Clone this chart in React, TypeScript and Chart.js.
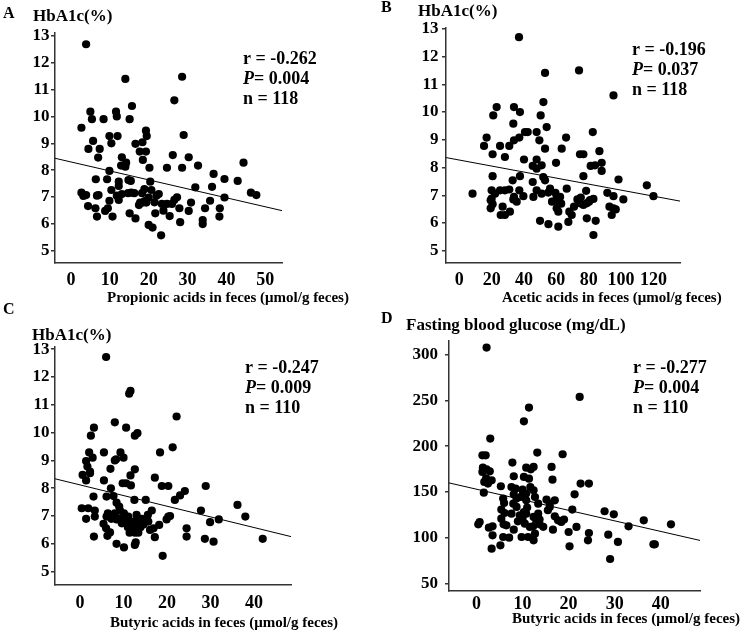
import React, { useEffect, useRef } from "react";
import { Chart, registerables } from "chart.js";

Chart.register(...registerables);

const FONT = '"Liberation Serif", "Times New Roman", Times, serif';

// ---------- Panel A: propionic acid vs HbA1c ----------
const propionicHbA1c: number[][] = [
  [3.9,12.69],[14.0,11.4],[28.6,11.48],[26.6,10.6],[5.0,10.18],[11.6,10.18],[15.7,10.39],[5.4,9.9],[8.4,9.9],[11.8,10.0],
  [15.1,9.9],[2.7,9.58],[9.9,9.27],[12.0,9.27],[10.4,9.0],[5.7,9.09],[4.5,8.79],[7.4,8.79],[16.6,8.98],[18.4,9.04],
  [19.3,9.47],[19.5,9.27],[17.7,8.69],[19.3,8.69],[29.0,9.31],[7.0,8.47],[26.2,8.56],[13.1,8.48],[14.2,8.28],[12.9,8.17],
  [14.0,8.13],[18.5,8.38],[20.2,8.09],[24.7,8.09],[28.6,8.09],[30.3,8.48],[32.7,8.17],[36.7,7.86],[44.4,8.28],[42.9,7.6],
  [39.5,7.67],[2.7,7.16],[6.4,7.66],[9.3,7.66],[9.9,7.97],[12.3,7.57],[12.3,7.41],[14.8,7.63],[15.4,7.6],[20.4,7.57],
  [20.7,7.26],[32.0,7.36],[36.3,7.38],[39.5,6.98],[46.3,7.16],[47.7,7.07],[4.4,6.66],[6.3,6.58],[6.7,6.27],[8.8,6.48],
  [9.9,6.86],[9.5,6.58],[10.7,6.27],[10.4,7.26],[11.8,7.05],[13.1,7.11],[12.3,6.89],[14.7,7.14],[15.5,7.16],[15.1,6.39],
  [16.3,7.14],[16.6,6.2],[18.3,7.14],[18.5,6.79],[17.8,6.79],[19.4,6.79],[18.9,7.29],[20.0,6.98],[20.0,5.96],[21.0,5.86],
  [21.7,6.39],[22.6,7.11],[23.2,5.57],[23.4,6.74],[24.7,6.74],[23.8,6.49],[25.4,6.29],[26.0,6.74],[26.6,6.89],[27.3,6.99],
  [27.9,6.58],[28.1,6.06],[30.3,6.48],[30.9,6.79],[34.5,6.58],[33.9,6.14],[33.9,5.99],[35.8,6.86],[38.3,6.58],[38.2,6.27],
  [3.2,7.04],[7.1,7.07],[17.5,6.7],[19.0,6.85],[22.0,7.05],[21.5,6.8],[3.9,7.07],[6.7,7.05]
];
const propionicXTicks = [0, 10, 20, 30, 40, 50];
const hba1cTicks = [5, 6, 7, 8, 9, 10, 11, 12, 13];
const propionicFit = { intercept: 8.305, slope: -0.0334 };

// ---------- Panel B: acetic acid vs HbA1c ----------
const aceticHbA1c: number[][] = [
  [36.9,12.7],[53.0,11.41],[74.0,11.5],[95.3,10.6],[23.1,10.18],[21.0,9.88],[33.8,10.18],[37.5,10.0],[33.4,9.58],[52.0,10.36],
  [50.3,9.88],[54.0,9.46],[16.9,9.08],[15.3,8.78],[25.2,8.78],[30.9,8.78],[33.8,8.98],[37.1,9.08],[40.6,9.28],[42.3,9.28],
  [47.8,9.28],[49.5,8.98],[53.0,8.68],[20.6,8.48],[28.2,8.38],[40.0,8.29],[47.8,8.29],[45.4,8.06],[47.8,7.96],[50.9,8.08],
  [59.8,8.17],[63.3,8.68],[66.0,9.08],[74.6,8.48],[76.7,8.48],[82.5,9.28],[81.2,8.06],[83.9,8.08],[86.6,8.59],[88.0,8.17],
  [88.0,7.88],[76.7,7.69],[98.4,7.57],[115.9,7.36],[120.0,6.97],[8.2,7.06],[20.6,7.69],[20.0,7.18],[22.1,7.06],[25.2,7.18],
  [28.2,7.18],[30.9,7.21],[33.0,7.54],[37.5,7.69],[37.1,7.18],[19.4,6.82],[20.6,6.68],[19.4,6.53],[25.6,6.29],[26.8,6.59],
  [28.2,6.29],[31.3,6.41],[33.4,6.85],[35.5,6.77],[33.8,6.94],[39.6,6.97],[45.4,7.48],[45.8,6.94],[47.8,7.18],[50.9,7.06],
  [51.9,7.66],[53.0,7.54],[49.9,6.08],[55.1,5.96],[56.1,7.24],[57.3,6.77],[59.4,7.09],[60.2,6.94],[61.2,6.77],[61.2,6.41],
  [60.2,6.53],[62.3,6.94],[61.2,5.87],[66.4,7.24],[68.0,6.41],[67.4,6.04],[69.5,6.29],[70.9,6.59],[73.0,6.85],[74.6,6.71],
  [75.1,6.92],[76.7,6.65],[78.8,6.71],[78.4,7.16],[80.2,6.77],[80.8,6.83],[82.9,6.87],[78.8,6.17],[82.9,5.57],[84.3,6.08],
  [91.5,7.09],[92.8,6.59],[94.2,6.29],[95.3,6.53],[96.7,6.49],[95.3,6.97],[101.4,6.85],[20.0,6.88],[55.0,7.1],[63.0,6.7]
];
const aceticXTicks = [0, 20, 40, 60, 80, 100, 120];
const aceticFit = { intercept: 8.271, slope: -0.01085 };

// ---------- Panel C: butyric acid vs HbA1c ----------
const butyricHbA1c: number[][] = [
  [6.0,12.72],[11.3,11.4],[11.6,11.5],[22.2,10.58],[8.0,10.37],[10.6,10.18],[3.2,10.18],[2.5,9.89],[12.6,9.89],[13.2,9.98],
  [2.1,9.29],[5.5,9.29],[9.3,9.29],[10.0,9.1],[8.3,9.04],[8.0,9.0],[2.9,9.1],[21.3,9.47],[18.4,9.29],[1.4,8.98],
  [1.7,8.78],[2.3,8.54],[0.6,8.48],[1.4,8.28],[7.0,8.7],[12.6,8.68],[5.5,8.28],[11.6,8.46],[9.8,8.18],[10.6,8.18],
  [11.7,8.1],[17.2,8.38],[18.8,8.08],[20.3,8.08],[28.9,8.08],[7.1,8.0],[24.1,7.9],[23.0,7.74],[21.8,7.58],[3.1,7.7],
  [6.1,7.7],[7.7,7.72],[12.5,7.58],[15.1,7.58],[8.4,7.48],[9.0,7.34],[0.4,7.28],[1.9,7.28],[3.4,7.2],[1.4,6.9],
  [3.4,6.98],[3.2,6.26],[6.4,7.1],[6.1,6.98],[5.4,6.72],[6.0,6.56],[6.3,6.29],[6.9,6.41],[8.0,7.1],[8.8,6.92],
  [8.4,6.88],[10.1,7.1],[11.1,6.98],[9.6,6.74],[10.6,6.76],[11.6,6.74],[12.3,6.8],[12.6,6.56],[13.0,7.04],[13.6,6.88],
  [13.9,6.6],[12.6,6.4],[12.8,6.05],[12.6,5.96],[8.4,6.0],[10.1,5.87],[15.6,7.04],[16.5,7.2],[15.7,6.8],[16.1,6.5],
  [16.9,6.56],[17.2,6.24],[18.2,6.68],[19.0,5.57],[19.9,6.88],[20.3,6.98],[20.7,7.0],[24.5,6.56],[24.5,6.26],[27.8,7.2],
  [28.7,6.18],[29.9,6.78],[30.7,6.08],[31.9,6.88],[36.2,7.4],[38.0,6.98],[42.0,6.18],[11.0,6.6],[12.0,6.5],[13.2,6.7],
  [14.2,6.9],[9.2,7.2],[10.5,6.9],[7.2,6.9],[11.4,6.4],[13.4,6.4],[14.6,6.7],[2.3,8.6]
];
const butyricXTicks = [0, 10, 20, 30, 40];
const butyricHbA1cFit = { intercept: 8.12, slope: -0.03834 };

// ---------- Panel D: butyric acid vs fasting blood glucose ----------
const butyricGlucose: number[][] = [
  [2.2,307.6],[22.4,253.8],[11.4,242.1],[10.3,227.2],[3.0,208.3],[1.3,190.1],[2.0,190.1],[7.8,182.1],[13.2,193.0],[18.7,191.2],
  [1.4,176.6],[2.2,174.8],[2.9,172.6],[1.3,171.9],[3.3,162.8],[1.7,161.0],[2.5,159.2],[1.6,149.3],[10.8,176.6],[11.8,174.8],
  [12.4,177.4],[16.3,177.4],[16.5,163.5],[8.1,167.2],[10.3,166.5],[11.4,164.6],[5.3,156.3],[7.6,155.5],[8.5,153.7],[10.0,152.6],
  [11.7,155.5],[12.4,151.9],[22.6,159.2],[24.4,159.2],[21.3,147.5],[5.8,142.8],[6.0,138.0],[8.1,147.5],[8.7,142.8],[9.6,144.6],
  [10.8,148.3],[12.7,144.6],[13.4,137.3],[15.2,141.7],[15.9,137.3],[17.0,140.9],[8.0,137.3],[8.7,133.7],[5.4,130.8],[6.1,127.1],
  [7.6,126.4],[9.4,124.6],[15.9,133.7],[15.5,130.1],[20.8,130.8],[27.8,129.0],[29.8,125.7],[33.0,112.6],[36.3,119.1],[42.2,114.8],
  [38.4,92.9],[38.7,92.9],[28.6,103.5],[29.0,76.9],[30.7,95.5],[24.4,105.3],[24.2,97.3],[20.0,106.4],[20.2,90.8],[21.7,111.9],
  [17.0,123.5],[17.7,119.1],[18.4,117.3],[19.0,119.9],[16.6,108.9],[13.7,119.9],[12.4,122.8],[13.0,117.3],[13.7,114.8],[12.3,112.6],
  [12.7,104.6],[12.4,97.3],[11.2,100.9],[11.6,111.9],[10.5,115.5],[10.0,120.9],[9.8,100.9],[8.1,108.9],[7.1,100.2],[5.8,100.9],
  [5.9,114.8],[6.5,113.7],[5.4,120.9],[5.2,91.8],[0.4,114.8],[0.7,117.3],[2.7,111.1],[3.5,112.6],[3.5,102.8],[3.3,88.2],
  [10.3,128.2],[10.8,126.4],[13.4,126.4],[10.8,140.9],[10.1,148.3],[2.1,165.0],[11.0,133.0],[14.5,112.0],[9.0,118.0]
];
const glucoseTicks = [50, 100, 150, 200, 250, 300];
const butyricGlucoseFit = { intercept: 153.1, slope: -1.153 };

// ---------- Panel layout (page pixels) ----------
const W = 740;
const H = 631;
const Y_W = 40;
const X_H = 30;

type PanelCfg = {
  letter: string; yTitle: string; xTitle: string;
  r: string; p: string; n: string;
  points: number[][]; xTicks: number[]; yTicks: number[];
  xMin: number; xMax: number; yMin: number; yMax: number;
  fit: { intercept: number; slope: number };
  area: { left: number; right: number; top: number; bottom: number };
  xPad: number; yPad: number;
  letterPos: number[]; yTitlePos: number[]; xTitlePos: number[]; statsPos: number[];
};

const panels: PanelCfg[] = [
  {
    letter: "A", yTitle: "HbA1c(%)", xTitle: "Propionic acids in feces (μmol/g feces)",
    r: "r = -0.262", p: "= 0.004", n: "n = 118",
    points: propionicHbA1c, xTicks: propionicXTicks, yTicks: hba1cTicks,
    xMin: -4.1, xMax: 54.3, yMin: 4.54, yMax: 13.11, fit: propionicFit,
    area: { left: 55, right: 282, top: 33, bottom: 263 }, xPad: 7, yPad: 1.5,
    letterPos: [3, 18], yTitlePos: [33, 21], xTitlePos: [107, 302], statsPos: [243, 64],
  },
  {
    letter: "B", yTitle: "HbA1c(%)", xTitle: "Acetic acids in feces (μmol/g feces)",
    r: "r = -0.196", p: "= 0.037", n: "n = 118",
    points: aceticHbA1c, xTicks: aceticXTicks, yTicks: hba1cTicks,
    xMin: -8.2, xMax: 136.4, yMin: 4.56, yMax: 13.03, fit: aceticFit,
    area: { left: 446, right: 680, top: 28, bottom: 263 }, xPad: 7, yPad: 3.5,
    letterPos: [381, 12], yTitlePos: [418, 16], xTitlePos: [502, 302], statsPos: [632, 55],
  },
  {
    letter: "C", yTitle: "HbA1c(%)", xTitle: "Butyric acids in feces (μmol/g feces)",
    r: "r = -0.247", p: "= 0.009", n: "n = 110",
    points: butyricHbA1c, xTicks: butyricXTicks, yTicks: hba1cTicks,
    xMin: -5.75, xMax: 48.5, yMin: 4.52, yMax: 13.08, fit: butyricHbA1cFit,
    area: { left: 55, right: 291, top: 347, bottom: 585 }, xPad: 7.5, yPad: 1.5,
    letterPos: [3, 314], yTitlePos: [32, 340], xTitlePos: [110, 627], statsPos: [245, 373],
  },
  {
    letter: "D", yTitle: "Fasting blood glucose (mg/dL)", xTitle: "Butyric acids in feces (μmol/g feces)",
    r: "r = -0.277", p: "= 0.004", n: "n = 110",
    points: butyricGlucose, xTicks: butyricXTicks, yTicks: glucoseTicks,
    xMin: -5.95, xMax: 48.5, yMin: 42, yMax: 314.8, fit: butyricGlucoseFit,
    area: { left: 449, right: 700, top: 341, bottom: 591 }, xPad: 3, yPad: 7,
    letterPos: [381, 323], yTitlePos: [406, 330], xTitlePos: [512, 623], statsPos: [633, 373],
  },
];

function Panel({ cfg }: { cfg: PanelCfg }) {
  const ref = useRef<HTMLCanvasElement | null>(null);
  useEffect(() => {
    const canvas = ref.current;
    if (!canvas) return;
    const textPlugin = {
      id: "panelText",
      afterDraw(chart: any) {
        const c = chart.ctx as CanvasRenderingContext2D;
        c.save();
        c.fillStyle = "#000";
        c.textAlign = "left";
        c.textBaseline = "alphabetic";
        c.font = `bold 16px ${FONT}`;
        c.fillText(cfg.letter, cfg.letterPos[0], cfg.letterPos[1]);
        c.font = `bold 17px ${FONT}`;
        c.fillText(cfg.yTitle, cfg.yTitlePos[0], cfg.yTitlePos[1]);
        c.font = `bold 15px ${FONT}`;
        c.fillText(cfg.xTitle, cfg.xTitlePos[0], cfg.xTitlePos[1]);
        const [sx, sy] = cfg.statsPos;
        c.font = `bold 18px ${FONT}`;
        c.fillText(cfg.r, sx, sy);
        c.font = `italic bold 18px ${FONT}`;
        c.fillText("P", sx, sy + 20);
        const pw = c.measureText("P").width;
        c.font = `bold 18px ${FONT}`;
        c.fillText(cfg.p, sx + pw, sy + 20);
        c.fillText(cfg.n, sx, sy + 40);
        c.restore();
      },
    };
    const tickFont = { family: FONT, size: 18, weight: "bold" as const };
    const chart = new Chart(canvas, {
      type: "scatter",
      data: {
        datasets: [
          {
            data: cfg.points.map((p) => ({ x: p[0], y: p[1] })),
            backgroundColor: "#000",
            borderColor: "#000",
            pointRadius: 4.1,
            pointBorderWidth: 0,
            order: 1,
          },
          {
            data: [cfg.xMin, cfg.xMax].map((x) => ({ x, y: cfg.fit.intercept + cfg.fit.slope * x })),
            showLine: true,
            borderColor: "#000",
            borderWidth: 1,
            pointRadius: 0,
            fill: false,
            order: 0,
          } as any,
        ],
      },
      options: {
        responsive: false,
        animation: false,
        events: [],
        layout: {
          padding: {
            left: cfg.area.left - Y_W,
            right: W - cfg.area.right,
            top: cfg.area.top,
            bottom: H - cfg.area.bottom - X_H,
          },
        },
        plugins: { legend: { display: false }, tooltip: { enabled: false }, title: { display: false } },
        scales: {
          x: {
            type: "linear",
            min: cfg.xMin,
            max: cfg.xMax,
            afterFit: (s: any) => { s.height = X_H; },
            afterBuildTicks: (s: any) => { s.ticks = cfg.xTicks.map((v) => ({ value: v })); },
            grid: { display: false, drawTicks: false },
            border: { display: true, color: "#333", width: 1.5 },
            ticks: { font: tickFont, color: "#000", padding: cfg.xPad, maxRotation: 0, autoSkip: false },
          },
          y: {
            type: "linear",
            min: cfg.yMin,
            max: cfg.yMax,
            afterFit: (s: any) => { s.width = Y_W; },
            afterBuildTicks: (s: any) => { s.ticks = cfg.yTicks.map((v) => ({ value: v })); },
            grid: { display: true, drawOnChartArea: false, drawTicks: true, tickLength: 4, color: "#333", lineWidth: 1.5 },
            border: { display: true, color: "#333", width: 1.5 },
            ticks: { font: { ...tickFont, size: 17 }, color: "#000", padding: cfg.yPad, autoSkip: false },
          },
        },
      },
      plugins: [textPlugin],
    } as any);
    return () => chart.destroy();
  }, [cfg]);
  return (
    <canvas
      ref={ref}
      width={W}
      height={H}
      style={{ position: "absolute", left: 0, top: 0, width: W, height: H }}
    />
  );
}

export default function App() {
  return (
    <div style={{ position: "fixed", left: 0, top: 0, width: W, height: H, background: "#fff", overflow: "hidden" }}>
      {panels.map((p) => (
        <Panel key={p.letter} cfg={p} />
      ))}
    </div>
  );
}
